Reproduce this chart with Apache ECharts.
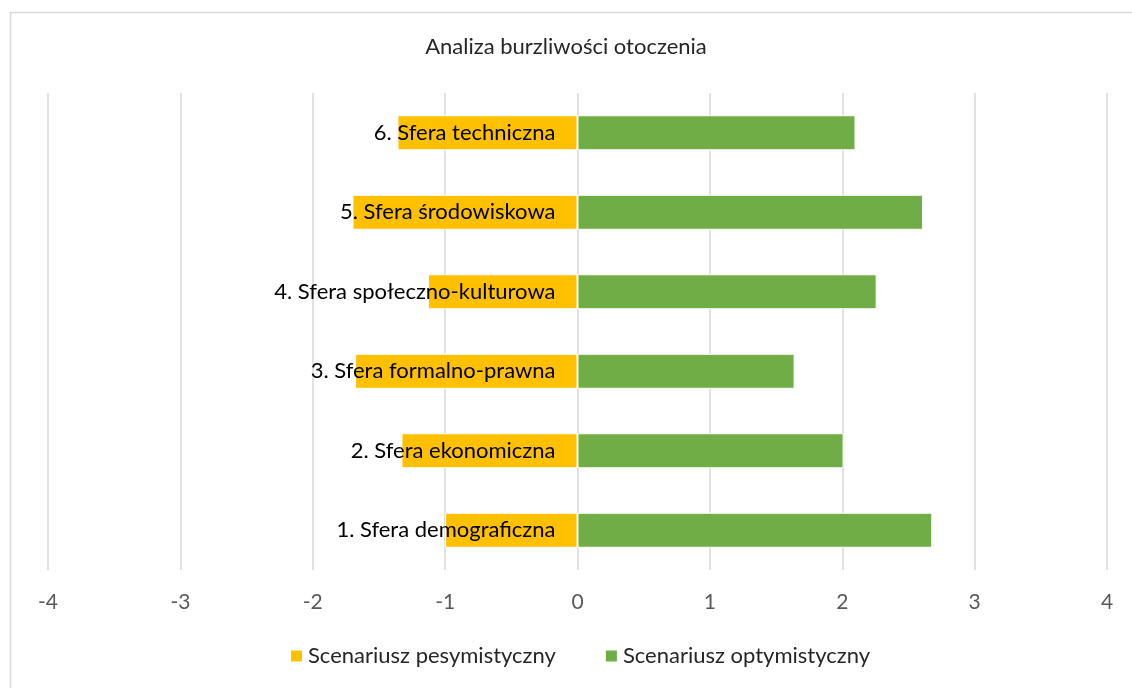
<!DOCTYPE html>
<html>
<head>
<meta charset="utf-8">
<script src="https://cdn.jsdelivr.net/npm/echarts@6/dist/echarts.min.js"></script>
<style>
  html, body { margin: 0; padding: 0; background: #fff; }
  #chart { width: 1132px; height: 688px; }
</style>
</head>
<body>
<div id="chart"></div>
<script>
const categories = [
  '1. Sfera demograficzna',
  '2. Sfera ekonomiczna',
  '3. Sfera formalno-prawna',
  '4. Sfera społeczno-kulturowa',
  '5. Sfera środowiskowa',
  '6. Sfera techniczna'
]
const pessimistic = [-1.0, -1.33, -1.68, -1.13, -1.7, -1.36]
const optimistic = [2.68, 2.01, 1.64, 2.26, 2.61, 2.1]
const xTicks = [-4, 4, 1]

const font = 'Lato, "Open Sans", sans-serif'
const gridLeft = 48

const chart = echarts.init(document.getElementById('chart'))

chart.setOption({
  animation: false,
  title: {
    text: 'Analiza burzliwości otoczenia',
    left: 'center',
    top: 31,
    textStyle: { fontFamily: font, fontSize: 22, fontWeight: 'normal', color: '#262626' }
  },
  legend: {
    bottom: 16,
    left: 284,
    icon: 'rect',
    itemWidth: 13,
    itemHeight: 13,
    itemGap: 48,
    textStyle: { fontFamily: font, fontSize: 22, color: '#262626' }
  },
  grid: { left: gridLeft, right: 25, top: 93, bottom: 118, outerBoundsMode: 'none', containLabel: false },
  xAxis: {
    type: 'value',
    min: xTicks[0],
    max: xTicks[1],
    interval: xTicks[2],
    axisLine: { show: false },
    axisTick: { show: false },
    axisLabel: { fontFamily: font, fontSize: 21, color: '#595959', margin: 22 },
    splitLine: { lineStyle: { color: '#d9d9d9', width: 1.5 } }
  },
  yAxis: {
    type: 'category',
    data: categories,
    z: 10,
    axisLine: { show: false },
    axisTick: { show: false },
    axisLabel: { fontFamily: font, fontSize: 22, color: '#000', margin: 22 }
  },
  series: [
    {
      name: 'Scenariusz pesymistyczny',
      type: 'bar',
      data: pessimistic,
      barWidth: 35,
      barGap: '-100%',
      itemStyle: { color: '#FFC000', borderColor: '#fff', borderWidth: 1 }
    },
    {
      name: 'Scenariusz optymistyczny',
      type: 'bar',
      data: optimistic,
      barWidth: 35,
      itemStyle: { color: '#70AD47', borderColor: '#fff', borderWidth: 1 }
    }
  ],
  graphic: [{
    type: 'rect',
    left: 8,
    top: 10,
    shape: { width: 1200, height: 800 },
    style: { fill: 'none', stroke: '#d9d9d9', lineWidth: 1.5 },
    silent: true
  }]
})

// move the category axis (and its labels) onto x = 0
const zeroX = chart.convertToPixel({ xAxisIndex: 0 }, 0)
chart.setOption({ yAxis: { offset: -(zeroX - gridLeft) } })
</script>
</body>
</html>
